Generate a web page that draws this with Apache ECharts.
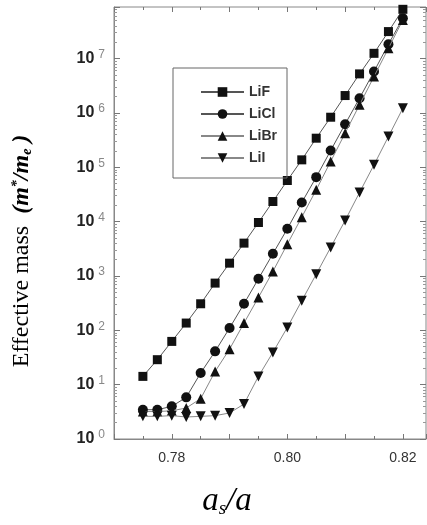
<!DOCTYPE html>
<html>
<head>
<meta charset="utf-8">
<script src="https://cdn.jsdelivr.net/npm/echarts@6/dist/echarts.min.js"></script>
<style>
html, body { margin: 0; padding: 0; background: #fff; }
#main { width: 427px; height: 525px; }
</style>
</head>
<body>
<div id="main"></div>
<script>
// a_s / a values (x positions of the points)
var ratio = [0.775, 0.7775, 0.78, 0.7825, 0.785, 0.7875, 0.79, 0.7925, 0.795, 0.7975,
             0.80, 0.8025, 0.805, 0.8075, 0.81, 0.8125, 0.815, 0.8175, 0.82];

// effective mass m*/m_e
var liF  = [14.2, 28.8, 62.5, 136, 308, 739, 1720, 4020, 9640, 23450,
            57100, 137000, 343000, 834000, 2.09e6, 5.23e6, 1.25e7, 3.14e7, 8.07e7];
var liCl = [3.46, 3.46, 3.99, 5.84, 16.4, 41, 110, 308, 888, 2560,
            7380, 22500, 65800, 203000, 621000, 1.87e6, 5.77e6, 1.84e7, 5.52e7];
var liBr = [3.2, 3.2, 3.3, 3.72, 5.52, 17.5, 45, 136, 403, 1210,
            3850, 12100, 38400, 128000, 424000, 1.41e6, 4.67e6, 1.55e7, 5.14e7];
var liI  = [2.61, 2.61, 2.69, 2.54, 2.61, 2.69, 3.01, 4.40, 14.2, 39.2,
            113, 350, 1080, 3350, 10500, 34400, 111000, 368000, 1.22e6];

var names = ['LiF', 'LiCl', 'LiBr', 'LiI'];
var symbols = ['rect', 'circle', 'triangle', 'path://M0,0 L10,0 L5,9 Z'];
var lineColors = ['#555', '#555', '#888', '#888'];

function pairs(ys) {
    return ratio.map(function (x, i) { return [x, ys[i]]; });
}

var chart = echarts.init(document.getElementById('main'));

var serif = 'Liberation Serif';
var sans = 'Liberation Sans';

var option = {
    backgroundColor: '#fff',
    animation: false,
    grid: { left: 114, top: 7, right: 1, bottom: 86, show: true, borderColor: '#888', borderWidth: 1 },
    legend: {
        orient: 'vertical',
        left: 173,
        top: 68,
        padding: [17, 10, 13, 27],
        itemGap: 8,
        itemWidth: 43,
        itemHeight: 12,
        borderColor: '#666',
        borderWidth: 1,
        textStyle: { fontFamily: sans, fontSize: 14, fontWeight: 'bold', color: '#333' },
        data: names
    },
    xAxis: [{
        type: 'value',
        min: 0.77,
        max: 0.824,
        interval: 0.01,
        axisLine: { onZero: false, lineStyle: { color: '#888' } },
        axisTick: { inside: true, length: 5, lineStyle: { color: '#777' } },
        minorTick: { show: true, splitNumber: 2, length: 3, lineStyle: { color: '#777' } },
        splitLine: { show: false },
        axisLabel: {
            margin: 12,
            fontFamily: sans, fontSize: 14, color: '#333',
            formatter: function (v) {
                var k = Math.round(v * 100);
                return (k % 2 === 0 && k >= 78) ? v.toFixed(2) : '';
            }
        },
        name: '{i|a}{sub|s}{i|/a}',
        nameLocation: 'middle',
        nameGap: 46,
        nameTextStyle: {
            padding: [0, 86, 0, 0],
            rich: {
                i: { fontFamily: serif, fontStyle: 'italic', fontSize: 33, color: '#000' },
                sub: { fontFamily: serif, fontStyle: 'italic', fontSize: 19, color: '#000', verticalAlign: 'bottom', padding: [14, 0, 0, 0] }
            }
        }
    }, {
        type: 'value',
        position: 'top',
        min: 0.77,
        max: 0.824,
        interval: 0.01,
        axisLine: { show: false },
        axisTick: { inside: true, length: 5, lineStyle: { color: '#777' } },
        minorTick: { show: true, splitNumber: 2, length: 3, lineStyle: { color: '#777' } },
        splitLine: { show: false },
        axisLabel: { show: false }
    }],
    yAxis: [{
        type: 'log',
        logBase: 10,
        min: 1,
        max: 8.9e7,
        axisLine: { show: true, lineStyle: { color: '#888' } },
        axisTick: { inside: true, length: 6, lineStyle: { color: '#777' } },
        minorTick: { show: true, splitNumber: 9, length: 3, lineStyle: { color: '#999' } },
        splitLine: { show: false },
        axisLabel: {
            margin: 9,
            formatter: function (v) {
                var e = Math.log10(v);
                if (Math.abs(e - Math.round(e)) > 0.01) return '';
                return '{b|10}{s|' + Math.round(e) + '}';
            },
            rich: {
                b: { fontFamily: sans, fontSize: 16, fontWeight: 'bold', color: '#222', lineHeight: 20 },
                s: { fontFamily: sans, fontSize: 12, color: '#888', verticalAlign: 'top', padding: [0, 0, 8, 4] }
            }
        },
        name: '{n|Effective mass  }{m|(m}{sup|*}{m|/m}{sub|e}{m| )}',
        nameLocation: 'middle',
        nameGap: 80,
        nameTextStyle: {
            padding: [0, 56, 0, 0],
            rich: {
                n: { fontFamily: serif, fontSize: 24, color: '#000' },
                m: { fontFamily: serif, fontStyle: 'italic', fontWeight: 'bold', fontSize: 24, color: '#000' },
                sup: { fontFamily: serif, fontStyle: 'italic', fontWeight: 'bold', fontSize: 14, color: '#000', verticalAlign: 'top', padding: [0, 0, 10, 0] },
                sub: { fontFamily: serif, fontStyle: 'italic', fontWeight: 'bold', fontSize: 14, color: '#000', verticalAlign: 'bottom', padding: [10, 0, 0, 0] }
            }
        }
    }, {
        type: 'log',
        logBase: 10,
        min: 1,
        max: 8.9e7,
        position: 'right',
        axisLine: { show: false },
        axisTick: { inside: true, length: 6, lineStyle: { color: '#777' } },
        minorTick: { show: true, splitNumber: 9, length: 3, lineStyle: { color: '#999' } },
        splitLine: { show: false },
        axisLabel: { show: false }
    }],
    series: names.map(function (name, k) {
        return {
            name: name,
            type: 'line',
            data: pairs([liF, liCl, liBr, liI][k]),
            symbol: symbols[k],
            symbolSize: k === 0 ? 9 : 10,
            showSymbol: true,
            lineStyle: { color: lineColors[k], width: 1 },
            itemStyle: { color: '#111', borderWidth: 0 },
            z: 3 + k
        };
    })
};

chart.setOption(option);
</script>
</body>
</html>
